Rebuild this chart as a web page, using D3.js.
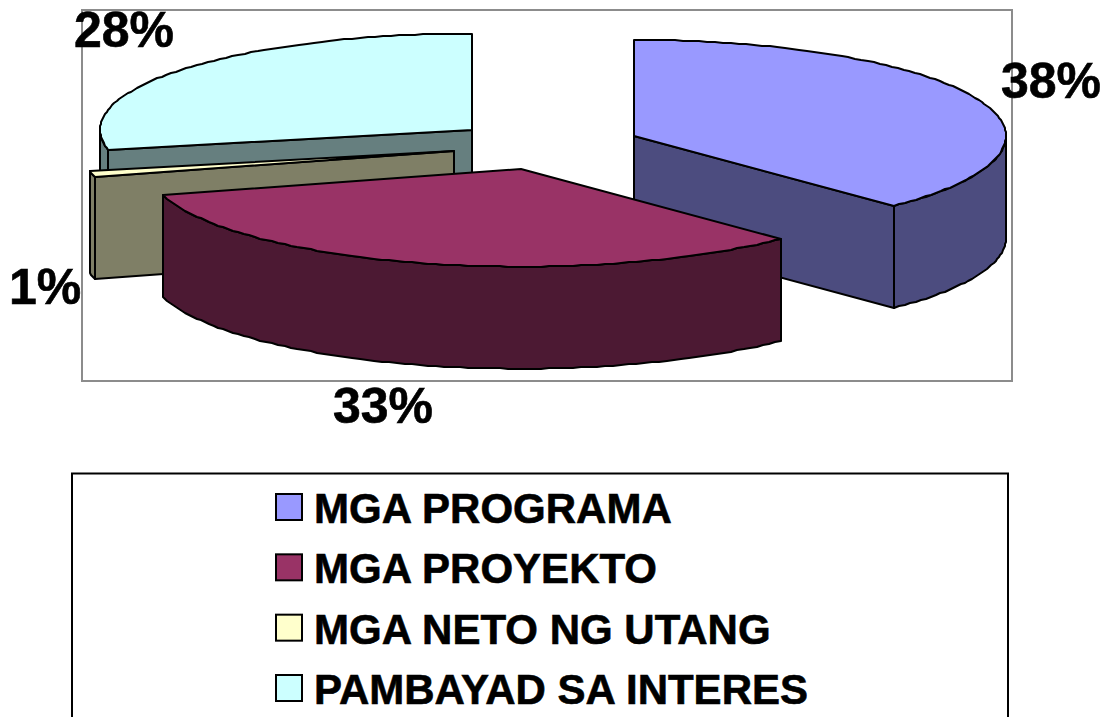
<!DOCTYPE html>
<html>
<head>
<meta charset="utf-8">
<script src="https://cdn.jsdelivr.net/npm/d3@7/dist/d3.min.js"></script>
<style>
html,body{margin:0;padding:0;background:#fff;overflow:hidden}
svg{display:block}
text{font-family:"Liberation Sans",Arial,sans-serif;font-weight:bold;fill:#000;stroke:#000;stroke-width:0.6px}
</style>
</head>
<body>
<svg id="chart" width="1104" height="717"></svg>
<script>
const categories = ["MGA PROGRAMA","MGA PROYEKTO","MGA NETO NG UTANG","PAMBAYAD SA INTERES"];
const values = [37.7,33,1,28.3];
const percentLabels = ["38%","33%","1%","28%"];
const topColors = ["#9999FF","#993366","#FFFFCC","#CCFFFF"];
const sideColors = ["#4C4C7F","#4C1933","#7F7F66","#667F7F"];

const W = 1104, H = 717;
const svg = d3.select("#chart");

// plot frame
const plot = {x0:82, y0:10, x1:1012, y1:381};
svg.append("rect").attr("x",plot.x0).attr("y",plot.y0)
  .attr("width",plot.x1-plot.x0).attr("height",plot.y1-plot.y0)
  .attr("fill","#fff").attr("stroke","#8c8c8c").attr("stroke-width",2);

// projected pie geometry
const pieCx = 546, pieCy = 145, rx = 372, ryTop = 96, ryBottom = 98, depth = 102, explodeX = 95, explodeY = 24.5;
const x = d3.scaleLinear().domain([-1,1]).range([-rx,rx]);
const y = d3.scaleLinear().domain([-1,0,1]).range([-ryTop,0,ryBottom]);
const arcs = d3.pie().sort(null).value(d=>d)(values);
arcs.forEach((a,i)=>{
  const mid=(a.startAngle+a.endAngle)/2;
  a.i=i;
  a.cx=pieCx+explodeX*Math.sin(mid);
  a.cy=pieCy-explodeY*Math.cos(mid);
});
const pt=(a,t,dz=0)=>[Math.round(a.cx+x(Math.sin(t))),Math.round(a.cy+y(-Math.cos(t))+dz)];
const arcPts=(a,t0,t1,dz=0)=>{
  const n=Math.max(2,Math.ceil((t1-t0)/0.022));
  return d3.range(n+1).map(k=>pt(a,t0+(t1-t0)*k/n,dz));
};
const line=d3.line();
const closed=p=>line(p)+"Z";

const groups = svg.append("g").selectAll("g")
  .data(arcs.slice().sort((p,q)=>p.cy-q.cy)).join("g")
  .attr("stroke","#000").attr("stroke-width",2).attr("stroke-linejoin","round");

groups.each(function(a){
  const g=d3.select(this), side=sideColors[a.i];
  const apex=[Math.round(a.cx),Math.round(a.cy)];
  const apexLow=[apex[0],apex[1]+depth];
  const t0=Math.max(a.startAngle,Math.PI/2), t1=Math.min(a.endAngle,3*Math.PI/2);
  if(a.endAngle<Math.PI){
    const e=pt(a,a.endAngle), el=pt(a,a.endAngle,depth);
    g.append("path").attr("d",closed([apex,e,el,apexLow])).attr("fill",side);
  }
  if(a.startAngle>Math.PI){
    const e=pt(a,a.startAngle), el=pt(a,a.startAngle,depth);
    g.append("path").attr("d",closed([apex,e,el,apexLow])).attr("fill",side);
  }
  if(t1>t0){
    const upper=arcPts(a,t0,t1), lower=arcPts(a,t0,t1,depth).reverse();
    g.append("path").attr("d",closed(upper.concat(lower))).attr("fill",side);
  }
  g.append("path").attr("d",closed([apex].concat(arcPts(a,a.startAngle,a.endAngle))))
    .attr("fill",topColors[a.i]);
});

// percentage labels
const labelPos = [[1001,98],[333,423],[9,304],[74,47]];
svg.append("g").selectAll("text").data(percentLabels).join("text")
  .attr("x",(d,i)=>labelPos[i][0]).attr("y",(d,i)=>labelPos[i][1])
  .attr("font-size",50).text(d=>d);

// legend (runs off the bottom of the page)
const legend = {x0:72, y0:473.5, x1:1008};
svg.append("rect").attr("x",legend.x0).attr("y",legend.y0)
  .attr("width",legend.x1-legend.x0).attr("height",H-legend.y0+20)
  .attr("fill","#fff").attr("stroke","#000").attr("stroke-width",2);
const rowY = d3.scalePoint().domain(d3.range(categories.length)).range([507,688]);
const rows = svg.append("g").selectAll("g").data(categories).join("g")
  .attr("transform",(d,i)=>`translate(0,${rowY(i)})`);
rows.append("rect").attr("x",276).attr("y",-13).attr("width",26).attr("height",26)
  .attr("fill",(d,i)=>topColors[i]).attr("stroke","#000").attr("stroke-width",2);
rows.append("text").attr("x",314).attr("y",16).attr("font-size",42).text(d=>d);
</script>
</body>
</html>
